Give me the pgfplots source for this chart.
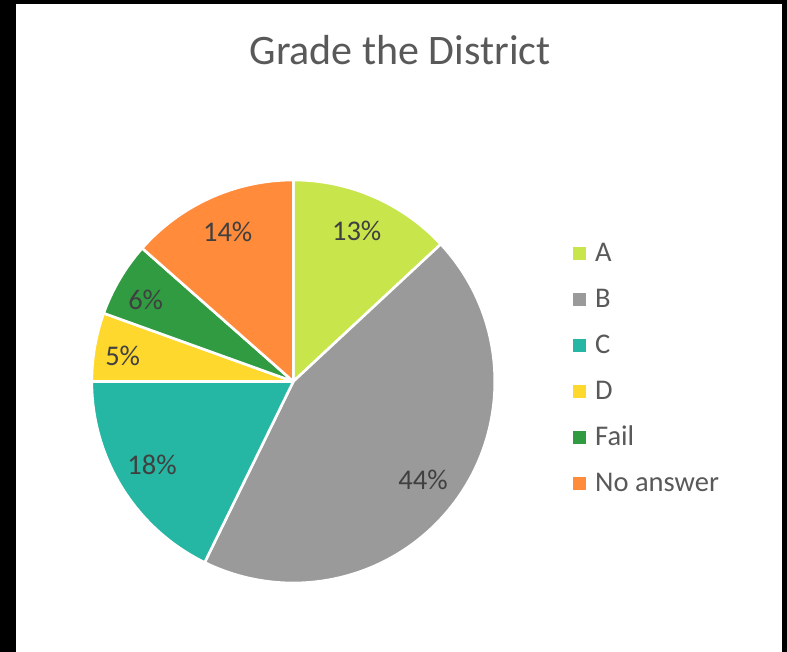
\documentclass[border=0pt]{standalone}
\usepackage{fontspec}
\setmainfont{Carlito}
\usepackage{pgfplots}
\usepackage{pgfplotstable}
\pgfplotsset{compat=1.18}
\definecolor{cA}{HTML}{C8E64C}
\definecolor{cB}{HTML}{9A9A9A}
\definecolor{cC}{HTML}{26B6A4}
\definecolor{cD}{HTML}{FFD82E}
\definecolor{cF}{HTML}{319B42}
\definecolor{cN}{HTML}{FF8B3B}
\definecolor{labtxt}{HTML}{404040}
\definecolor{legtxt}{HTML}{595959}
\definecolor{titletxt}{HTML}{595959}
% share of each grade (percent), colour, label position and label text
\pgfplotstableread{
name value col lx ly pct
A 13.07 cA 356.7 420.3 13
B 44.18 cB 423.0 172.0 44
C 17.75 cC 152.0 187.0 18
D 5.50 cD 122.7 296.0 5
Fail 6.00 cF 145.7 352.0 6
NoAnswer 13.50 cN 227.7 419.7 14
}\piedata
\newcommand\lblfont{\fontsize{28.5}{34}\selectfont}
\begin{document}
\begin{tikzpicture}
\begin{axis}[
  x=1pt, y=1pt, xmin=0, xmax=787, ymin=0, ymax=652,
  scale only axis, hide axis, clip=false,
  legend image code/.code={\path[#1, draw=none] (0pt,-7.5pt) rectangle (13pt,5.5pt);},
  legend cell align=left,
  legend style={at={(axis cs:573,409.4)}, anchor=north west, draw=none, fill=none,
    inner sep=0pt, row sep=27pt, column sep=9pt,
    font=\lblfont, text=legtxt,
    nodes={inner sep=0pt, text height=19pt, text depth=0pt}},
]
\fill[black] (axis cs:0,0) rectangle (axis cs:787,652);
\fill[white] (axis cs:16,0) rectangle (axis cs:782,648);
\gdef\cum{90}
\pgfplotsforeachungrouped \i in {0,...,5}{%
  \pgfplotstablegetelem{\i}{value}\of\piedata \let\v\pgfplotsretval
  \pgfplotstablegetelem{\i}{col}\of\piedata \let\c\pgfplotsretval
  \pgfmathsetmacro\ea{\cum-3.6*\v}%
  \edef\cmd{\noexpand\filldraw[fill=\c,draw=white,line width=2.6pt,line join=round]
    (axis cs:293.3,270.5) -- ++(\cum:201.5pt) arc[start angle=\cum,end angle=\ea,radius=201.5pt] -- cycle;}%
  \cmd
  \xdef\cum{\ea}%
}
\pgfplotsforeachungrouped \i in {0,...,5}{%
  \pgfplotstablegetelem{\i}{lx}\of\piedata \let\lx\pgfplotsretval
  \pgfplotstablegetelem{\i}{ly}\of\piedata \let\ly\pgfplotsretval
  \pgfplotstablegetelem{\i}{pct}\of\piedata \let\p\pgfplotsretval
  \edef\cmd{\noexpand\node[font=\noexpand\lblfont, text=labtxt, inner sep=0pt, text height=18.5pt, text depth=0pt, anchor=center]
    at (axis cs:\lx,\ly) {\p\noexpand\%};}%
  \cmd
}
\node[font=\fontsize{42}{50}\selectfont, text=titletxt, inner sep=0pt, text height=27pt, text depth=0pt, anchor=center]
  at (axis cs:400,601) {Grade the District};
\addlegendimage{fill=cA}\addlegendentry{A}
\addlegendimage{fill=cB}\addlegendentry{B}
\addlegendimage{fill=cC}\addlegendentry{C}
\addlegendimage{fill=cD}\addlegendentry{D}
\addlegendimage{fill=cF}\addlegendentry{Fail}
\addlegendimage{fill=cN}\addlegendentry{No answer}
\end{axis}
\end{tikzpicture}
\end{document}
